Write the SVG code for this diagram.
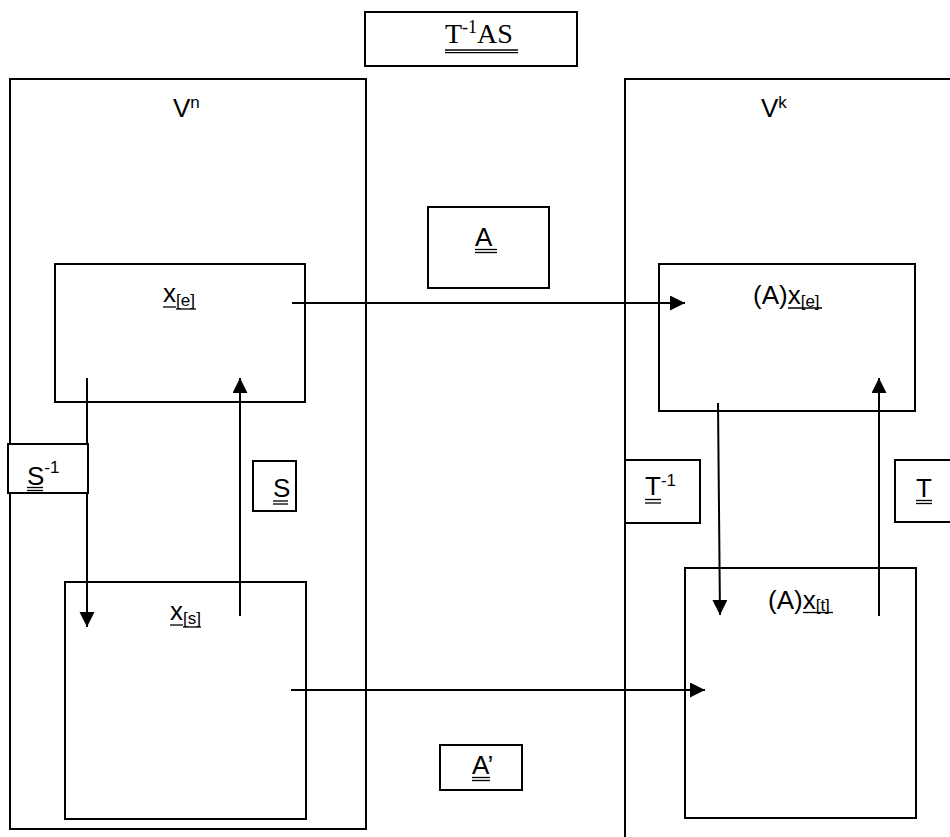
<svg xmlns="http://www.w3.org/2000/svg" width="950" height="837" viewBox="0 0 950 837">
<style>
.box{fill:none;stroke:#000;stroke-width:2}
.lbox{fill:#fff;stroke:#000;stroke-width:2}
.sans{font-family:"Liberation Sans","Open Sans",Arial,sans-serif;font-size:26px;fill:#000}
.serif{font-family:"Liberation Serif","Times New Roman",serif;font-size:28px;fill:#000}
.ul{stroke:#000;stroke-width:1.3}
.conn{stroke:#000;stroke-width:2;fill:none;marker-end:url(#ah)}
</style>
<defs>
<marker id="ah" markerUnits="userSpaceOnUse" markerWidth="16" markerHeight="16" refX="15" refY="7.5" orient="auto">
<path d="M0,0 L15,7.5 L0,15 z" fill="#000"/>
</marker>
</defs>
<rect width="950" height="837" fill="#fff"/>

<g id="title">
<rect class="box" x="365" y="12" width="212" height="54"/>
<text class="serif" x="445" y="43">T<tspan font-size="18" dy="-10">-1</tspan><tspan dy="10">AS</tspan></text>
<line class="ul" x1="445" y1="50" x2="518" y2="50"/>
<line class="ul" x1="445" y1="52.7" x2="518" y2="52.7"/>
</g>

<g id="Vn">
<rect class="box" x="10" y="79" width="356" height="750"/>
<text class="sans" x="173" y="117">V<tspan font-size="17" dy="-9">n</tspan></text>
</g>

<g id="Vk">
<rect class="box" x="625" y="79" width="340" height="775"/>
<text class="sans" x="761" y="117">V<tspan font-size="17" dy="-9">k</tspan></text>
</g>

<g id="xe">
<rect class="box" x="55" y="264" width="250" height="138"/>
<text class="sans" x="163" y="302">x<tspan font-size="17" dy="4">[e]</tspan></text>
<line class="ul" x1="163" y1="307" x2="176" y2="307"/>
<line class="ul" x1="176" y1="309" x2="196" y2="309"/>
</g>

<g id="xs">
<rect class="box" x="65" y="582" width="241" height="237"/>
<text class="sans" x="170" y="620">x<tspan font-size="17" dy="4">[s]</tspan></text>
<line class="ul" x1="170" y1="625" x2="183" y2="625"/>
<line class="ul" x1="183" y1="627" x2="201" y2="627"/>
</g>

<g id="Axe">
<rect class="box" x="659" y="264" width="256" height="147"/>
<text class="sans" x="753" y="304">(A)x<tspan font-size="17" dy="3">[e]</tspan></text>
<line class="ul" x1="788" y1="308" x2="822" y2="308"/>
</g>

<g id="Axt">
<rect class="box" x="685" y="568" width="231" height="250"/>
<text class="sans" x="768" y="609">(A)x<tspan font-size="17" dy="2">[t]</tspan></text>
<line class="ul" x1="803" y1="612.5" x2="833" y2="612.5"/>
</g>

<g id="connectors">
<line class="conn" x1="292" y1="303" x2="685" y2="303"/>
<line class="conn" x1="291" y1="690" x2="705" y2="690"/>
<line class="conn" x1="87" y1="378" x2="87" y2="627"/>
<line class="conn" x1="240" y1="616" x2="240" y2="378"/>
<line class="conn" x1="718" y1="403" x2="720" y2="615"/>
<line class="conn" x1="879" y1="616" x2="879" y2="378"/>
</g>

<g id="lblA">
<rect class="lbox" x="428" y="207" width="121" height="81"/>
<text class="sans" x="475" y="246">A</text>
<line class="ul" x1="475" y1="249.5" x2="497" y2="249.5"/>
<line class="ul" x1="475" y1="252.5" x2="497" y2="252.5"/>
</g>

<g id="lblAp">
<rect class="lbox" x="440" y="745" width="82" height="45"/>
<text class="sans" x="472" y="774">A’</text>
<line class="ul" x1="472" y1="777.5" x2="490" y2="777.5"/>
<line class="ul" x1="472" y1="780.5" x2="490" y2="780.5"/>
</g>

<g id="lblSinv">
<rect class="lbox" x="8" y="444" width="80" height="49"/>
<text class="sans" x="27" y="485">S<tspan font-size="17" dy="-12">-1</tspan></text>
<line class="ul" x1="27" y1="487.5" x2="43" y2="487.5"/>
<line class="ul" x1="27" y1="490.5" x2="43" y2="490.5"/>
</g>

<g id="lblS">
<rect class="lbox" x="253" y="461" width="43" height="50"/>
<text class="sans" x="273" y="497">S</text>
<line class="ul" x1="273" y1="501" x2="288" y2="501"/>
<line class="ul" x1="273" y1="504" x2="288" y2="504"/>
</g>

<g id="lblTinv">
<rect class="lbox" x="625" y="460" width="75" height="63"/>
<text class="sans" x="645" y="495">T<tspan font-size="17" dy="-9">-1</tspan></text>
<line class="ul" x1="645" y1="499.5" x2="661" y2="499.5"/>
<line class="ul" x1="645" y1="503" x2="661" y2="503"/>
</g>

<g id="lblT">
<rect class="lbox" x="895" y="460" width="60" height="62"/>
<text class="sans" x="916" y="497">T</text>
<line class="ul" x1="916" y1="500.5" x2="932" y2="500.5"/>
<line class="ul" x1="916" y1="503.5" x2="932" y2="503.5"/>
</g>
</svg>
